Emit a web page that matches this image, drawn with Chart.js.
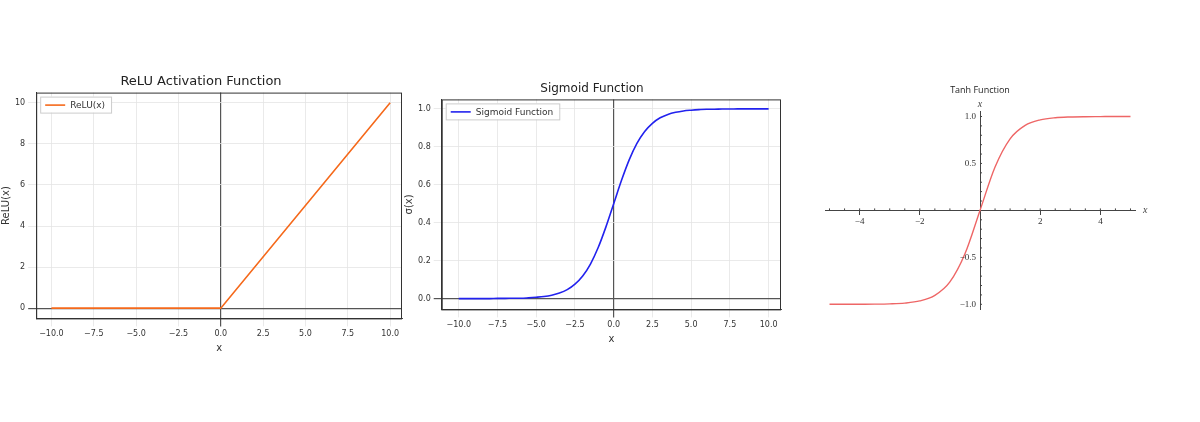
<!DOCTYPE html>
<html><head><meta charset="utf-8">
<script src="https://cdn.jsdelivr.net/npm/chart.js@4/dist/chart.umd.min.js"></script>
<style>
body{margin:0;background:#fff;width:1200px;height:422px;position:relative;overflow:hidden}
canvas{position:absolute}
</style></head><body>
<canvas id="c1" width="410" height="284" style="left:-4px;top:70px"></canvas>
<canvas id="c2" width="382" height="267" style="left:401px;top:80px"></canvas>
<canvas id="c3" width="360" height="250" style="left:810px;top:75px"></canvas>
<script>
// ReLU
const reluX = [-10, 0, 10];
const reluY = [0, 0, 10];
const reluXTicks = [-10, -7.5, -5, -2.5, 0, 2.5, 5, 7.5, 10];
const reluYTicks = [0, 2, 4, 6, 8, 10];
// Sigmoid
const sigX = [-10,-9.5,-9,-8.5,-8,-7.5,-7,-6.5,-6,-5.5,-5,-4.5,-4,-3.5,-3,-2.5,-2,-1.5,-1,-0.5,0,0.5,1,1.5,2,2.5,3,3.5,4,4.5,5,5.5,6,6.5,7,7.5,8,8.5,9,9.5,10];
const sigY = [0,0,0,0,0,0.001,0.001,0.002,0.002,0.004,0.007,0.011,0.018,0.029,0.047,0.076,0.119,0.182,0.269,0.378,0.5,0.622,0.731,0.818,0.881,0.924,0.953,0.971,0.982,0.989,0.993,0.996,0.998,0.998,0.999,0.999,1,1,1,1,1];
const sigXTicks = [-10, -7.5, -5, -2.5, 0, 2.5, 5, 7.5, 10];
const sigYTicks = [0, 0.2, 0.4, 0.6, 0.8, 1.0];
// Tanh
const tanhX = [-5,-4.5,-4,-3.5,-3,-2.5,-2,-1.5,-1,-0.5,0,0.5,1,1.5,2,2.5,3,3.5,4,4.5,5];
const tanhY = [-1,-1,-0.999,-0.998,-0.995,-0.987,-0.964,-0.905,-0.762,-0.462,0,0.462,0.762,0.905,0.964,0.987,0.995,0.998,0.999,1,1];
const tanhXTicks = [-4, -2, 2, 4];
const tanhYTicks = [-1.0, -0.5, 0.5, 1.0];

const pts = (xs, ys) => xs.map((x, i) => ({x, y: ys[i]}));
const fmt1 = v => (v < 0 ? '\u2212' : '') + Math.abs(v).toFixed(1);
const F = 'DejaVu Sans';
Chart.defaults.font.family = F;
Chart.defaults.color = '#333';
const gridCol = ctx => ctx.tick && ctx.tick.value === 0 ? '#555' : '#e4e4e4';
const gridW = ctx => ctx.tick && ctx.tick.value === 0 ? 1.2 : 0.8;
const setTicks = arr => s => { s.ticks = arr.map(v => ({value: v})); };

const frameLegend = {
  id: 'frameLegend',
  afterDraw(chart) {
    const c = chart.ctx, a = chart.chartArea, ds = chart.data.datasets[0];
    c.save();
    c.strokeStyle = '#333'; c.lineWidth = 1;
    c.strokeRect(a.left + 0.5, a.top + 0.5, a.right - a.left - 1, a.bottom - a.top);
    c.font = '9px "DejaVu Sans"';
    const w = c.measureText(ds.label).width + 36;
    const x = a.left + 4, y = a.top + 4;
    c.fillStyle = '#fff'; c.fillRect(x, y, w, 16);
    c.strokeStyle = '#ccc'; c.strokeRect(x + 0.5, y + 0.5, w, 16);
    c.strokeStyle = ds.borderColor; c.lineWidth = 1.6;
    c.beginPath(); c.moveTo(x + 5, y + 8.5); c.lineTo(x + 25, y + 8.5); c.stroke();
    c.fillStyle = '#333'; c.textBaseline = 'middle';
    c.fillText(ds.label, x + 30, y + 9);
    c.restore();
  }
};

function mpl(id, xs, ys, color, label, title, ytitle, xmin, xmax, ymin, ymax, xt, yt, yfmt, pad, tension, tsize) {
  new Chart(document.getElementById(id), {
    type: 'line',
    data: {datasets: [{label, data: pts(xs, ys), borderColor: color, borderWidth: 1.6, pointRadius: 0, fill: false, tension: tension, cubicInterpolationMode: tension ? 'monotone' : 'default'}]},
    options: {
      responsive: false, animation: false, devicePixelRatio: 1,
      layout: {padding: pad},
      plugins: {
        title: {display: true, text: title, font: {size: tsize, family: F, weight: 'normal'}, color: '#222', padding: {top: 0, bottom: 3}},
        legend: {display: false},
        tooltip: {enabled: false}
      },
      scales: {
        x: {type: 'linear', min: xmin, max: xmax, afterBuildTicks: setTicks(xt),
            ticks: {callback: v => fmt1(v), font: {size: 8}, maxRotation: 0, autoSkip: false},
            grid: {color: gridCol, lineWidth: gridW}, border: {color: '#333', width: 1},
            title: {display: true, text: 'x', font: {size: 10}, padding: 0}},
        y: {type: 'linear', min: ymin, max: ymax, afterBuildTicks: setTicks(yt),
            ticks: {callback: yfmt, font: {size: 8}, autoSkip: false},
            grid: {color: gridCol, lineWidth: gridW}, border: {color: '#333', width: 1},
            title: {display: true, text: ytitle, font: {size: 10}, padding: 0}}
      }
    },
    plugins: [frameLegend]
  });
}
mpl('c1', reluX, reluY, '#f5691b', 'ReLU(x)', 'ReLU Activation Function', 'ReLU(x)', -10.9, 10.7, -0.5, 10.5, reluXTicks, reluYTicks, v => String(v), {left: 4, right: 4, top: 4, bottom: 0}, 0, 13);
mpl('c2', sigX, sigY, '#2222ee', 'Sigmoid Function', 'Sigmoid Function', '\u03c3(x)', -11.1, 10.8, -0.057, 1.05, sigXTicks, sigYTicks, v => v.toFixed(1), {left: 2, right: 2, top: 2, bottom: 2}, 0.4, 12);

// Tanh with axes through origin
const axisLabels = {
  id: 'axisLabels',
  afterDraw(chart) {
    const c = chart.ctx, xs = chart.scales.x, ys = chart.scales.y;
    c.save();
    c.font = 'italic 10px "Liberation Serif"'; c.fillStyle = '#444';
    c.textAlign = 'left'; c.textBaseline = 'middle';
    c.fillText('x', xs.right + 8, ys.getPixelForValue(0));
    c.textAlign = 'center'; c.textBaseline = 'bottom';
    c.fillText('x', xs.getPixelForValue(0), ys.top - 2);
    const y0 = ys.getPixelForValue(0), x0 = xs.getPixelForValue(0);
    c.font = '9px "Liberation Serif"'; c.fillStyle = '#333';
    c.textAlign = 'right'; c.textBaseline = 'middle';
    tanhYTicks.forEach(v => c.fillText((v < 0 ? '\u2212' : '') + Math.abs(v).toFixed(1), x0 - 4, ys.getPixelForValue(v)));
    c.strokeStyle = '#444'; c.lineWidth = 1;
    for (let i = -10; i <= 10; i++) { if (i === 0) continue; const px = xs.getPixelForValue(i / 2); c.beginPath(); c.moveTo(px, y0); c.lineTo(px, y0 - 2); c.stroke(); }
    for (let i = -10; i <= 10; i++) { if (i === 0) continue; const py = ys.getPixelForValue(i / 10); c.beginPath(); c.moveTo(x0, py); c.lineTo(x0 + 2, py); c.stroke(); }
    c.restore();
  }
};
new Chart(document.getElementById('c3'), {
  type: 'line',
  data: {datasets: [{label: 'tanh', data: pts(tanhX, tanhY), borderColor: '#ee6666', borderWidth: 1.4, pointRadius: 0, fill: false, tension: 0.4, cubicInterpolationMode: 'monotone'}]},
  options: {
    responsive: false, animation: false, devicePixelRatio: 1,
    layout: {padding: {left: 15, right: 35, top: 8, bottom: 16}},
    plugins: {
      title: {display: true, text: 'Tanh Function', font: {size: 9, family: 'Open Sans', weight: 'normal'}, color: '#222', padding: {top: 2, bottom: 16}},
      legend: {display: false}, tooltip: {enabled: false}
    },
    scales: {
      x: {type: 'linear', min: -5.15, max: 5.15, position: {y: 0}, afterBuildTicks: setTicks(tanhXTicks),
          ticks: {callback: v => (v < 0 ? '\u2212' : '') + Math.abs(v), font: {size: 9, family: 'Liberation Serif'}, color: '#333', maxRotation: 0, autoSkip: false, padding: 2},
          grid: {drawOnChartArea: false, tickLength: 4, tickColor: '#444', color: '#444'}, border: {color: '#444', width: 1}},
      y: {type: 'linear', min: -1.05, max: 1.05, position: {x: 0}, afterBuildTicks: setTicks(tanhYTicks),
          ticks: {display: false},
          grid: {drawOnChartArea: false, drawTicks: false, color: '#444'}, border: {color: '#444', width: 1}}
    }
  },
  plugins: [axisLabels]
});
</script>
</body></html>
